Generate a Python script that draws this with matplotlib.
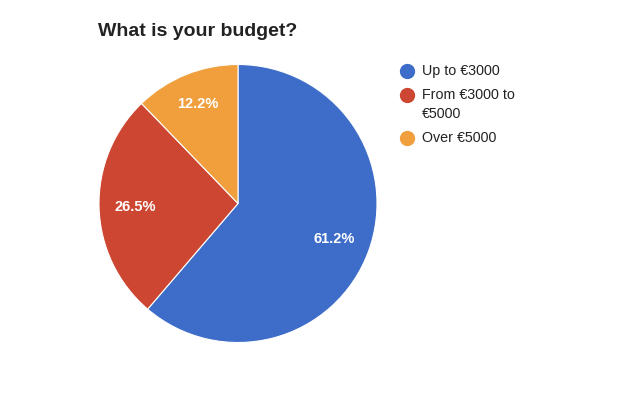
import matplotlib.pyplot as plt
from matplotlib.lines import Line2D
import numpy as np

plt.rcParams['font.family'] = ['Liberation Sans', 'DejaVu Sans']

# data
labels = ['Up to €3000', 'From €3000 to\n€5000', 'Over €5000']
shares = [61.2, 26.5, 12.2]
pct_text = ['61.2%', '26.5%', '12.2%']
colors = ['#3d6dc8', '#cc4631', '#f09f3c']

W, H = 640, 395
fig = plt.figure(figsize=(W / 100, H / 100), dpi=100)

# pie axes placed so the disc sits at center (238, 203.5), radius ~139 px
cx, cy, r = 238, 203.5, 139
ax = fig.add_axes([(cx - r) / W, (H - cy - r) / H, 2 * r / W, 2 * r / H])
wedges, _ = ax.pie(shares, colors=colors, startangle=90, counterclock=False,
                   radius=1.0, wedgeprops=dict(edgecolor='white', linewidth=0.8))
ax.set_xlim(-1, 1)
ax.set_ylim(-1, 1)
ax.set_aspect('auto')
ax.axis('off')

# percentage labels inside the wedges
start = 90.0
total = sum(shares)
for w, txt, dist in zip(shares, pct_text, [0.74, 0.74, 0.77]):
    mid = start - (w / total) * 360 / 2
    a = np.deg2rad(mid)
    ax.text(dist * np.cos(a), dist * np.sin(a), txt, ha='center', va='center',
            color='white', fontsize=10.5, fontweight='bold')
    start -= (w / total) * 360

fig.text(98 / W, 1 - 31 / H, 'What is your budget?', fontsize=14,
         fontweight='bold', ha='left', va='center', color='#222222')

# legend drawn by hand, one text line at a time
legend_y = [71, 95, 138]
line_gap = 19
for lab, col, y in zip(labels, colors, legend_y):
    fig.add_artist(Line2D([407 / W], [1 - y / H], marker='o', markersize=10,
                          color=col, linestyle='none', transform=fig.transFigure))
    for k, part in enumerate(lab.split('\n')):
        fig.text(422 / W, 1 - (y + k * line_gap) / H, part, fontsize=10.3,
                 ha='left', va='center', color='#222222')

fig.savefig('out.png', dpi=100)
